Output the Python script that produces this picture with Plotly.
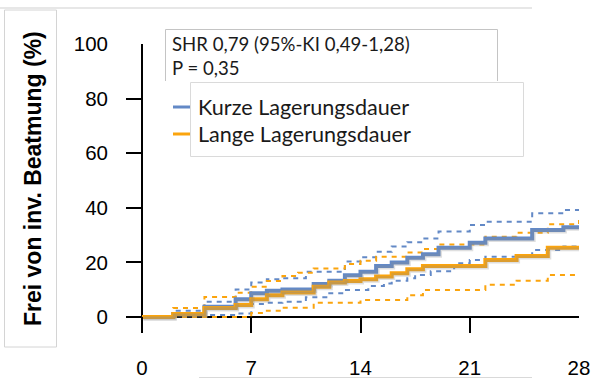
import plotly.graph_objects as go

# ---- data (days, cumulative %)
kurz_t = [0, 2, 4, 6, 7, 8, 9, 11, 12, 13, 14, 15, 16, 17, 18, 19, 21, 22, 25, 27, 28]
kurz_v = [0, 1.1, 3.8, 6.5, 8.7, 9.6, 10.1, 12.1, 13.3, 15.3, 16.6, 18.7, 20.0, 21.7, 23.0, 25.4, 27.2, 28.8, 31.9, 32.9, 32.9]
kurz_up_t = [0, 2, 4, 6, 7, 8, 9, 10.5, 13, 14, 15, 16, 17, 18, 19, 21, 22, 25, 27, 28]
kurz_up_v = [0, 2.3, 5.6, 10.1, 12.6, 13.8, 14.2, 16.6, 20.3, 21.9, 23.9, 25.8, 27.4, 28.8, 31.3, 33.7, 34.9, 38.0, 39.2, 39.2]
kurz_lo_t = [0, 4, 6, 7, 8, 9, 10.5, 12, 13, 14.5, 15.5, 16, 17, 17.5, 18.5, 20, 21, 22, 25, 27, 28]
kurz_lo_v = [0, 0.7, 1.3, 4.8, 5.2, 5.6, 7.2, 8.7, 9.9, 11.4, 12.3, 13.3, 14.2, 15.4, 16.8, 19.7, 20.9, 22.1, 24.5, 25.8, 25.8]

lang_t = [0, 2, 4, 6, 7, 8, 9, 11, 12, 13, 14, 15, 16, 17, 18, 22, 24, 26, 28]
lang_v = [0, 1.1, 3.3, 4.4, 6.5, 8.0, 9.0, 11.1, 12.6, 13.2, 13.8, 14.8, 16.0, 17.5, 18.7, 20.9, 22.3, 25.4, 26.0]
lang_up_t = [0, 2, 4, 6, 7, 8, 9, 10, 11, 13, 14, 15, 17, 18, 19, 22, 24, 26, 28]
lang_up_v = [0, 3.3, 7.3, 8.9, 11.1, 13.2, 15.0, 16.2, 17.8, 19.4, 20.6, 22.1, 23.6, 24.9, 26.6, 29.4, 30.9, 34.0, 35.5]
lang_lo_t = [0, 7, 8, 9, 11, 14, 17, 18, 22, 24, 26, 28]
lang_lo_v = [0, 1.5, 2.3, 3.4, 5.2, 6.2, 8.0, 9.9, 11.8, 13.3, 15.4, 15.4]

x_ticks = [0, 7, 14, 21, 28]
y_ticks = [0, 20, 40, 60, 80, 100]
series_names = ["Kurze Lagerungsdauer", "Lange Lagerungsdauer"]
stats_lines = ["SHR 0,79 (95%-KI 0,49-1,28)", "P = 0,35"]
y_title = "Frei von inv. Beatmung (%)"

BLUE = "#6389C6"
ORANGE = "#FBA40D"
W, H = 592, 379
L, R, T, B = 126, 579, 44, 333
XPX = (R - L) / (28 + 16 / 15.607)   # px per day
YPX = (B - T) / (100 + 16 / 2.73)    # px per %
XR = [-16 / 15.607, 28]
YR = [-16 / 2.73, 100]
SH = 1.5  # shadow offset in px


def px(x):
    return (x - L) / (R - L)


def py(y):
    return (B - y) / (B - T)


fig = go.Figure()
# soft shadow of the solid curves (drawn on an offset overlay axis pair)
for t, v in [(kurz_t, kurz_v), (lang_t, lang_v)]:
    fig.add_trace(go.Scatter(x=t, y=v, mode="lines", xaxis="x2", yaxis="y2",
                             line=dict(color="rgba(140,140,140,0.28)", width=4, shape="hv"),
                             showlegend=False, hoverinfo="skip"))
for t, v, c in [(kurz_up_t, kurz_up_v, BLUE), (kurz_lo_t, kurz_lo_v, BLUE),
                (lang_up_t, lang_up_v, ORANGE), (lang_lo_t, lang_lo_v, ORANGE)]:
    fig.add_trace(go.Scatter(x=t, y=v, mode="lines", line=dict(color=c, width=2, dash="5px,5px", shape="hv"),
                             showlegend=False, hoverinfo="skip"))
fig.add_trace(go.Scatter(x=kurz_t, y=kurz_v, mode="lines", name=series_names[0],
                         line=dict(color=BLUE, width=4, shape="hv"), showlegend=False))
fig.add_trace(go.Scatter(x=lang_t, y=lang_v, mode="lines", name=series_names[1],
                         line=dict(color=ORANGE, width=4, shape="hv"), showlegend=False))

tickfont = dict(family="Liberation Sans, Arial", size=20.5, color="#000")
fig.update_layout(
    width=W, height=H,
    margin=dict(l=L, r=W - R, t=T, b=H - B, pad=0, autoexpand=False),
    plot_bgcolor="white", paper_bgcolor="white",
    xaxis=dict(range=XR, tickvals=x_ticks, ticks="inside", ticklen=16, tickwidth=2,
               tickcolor="black", showgrid=False, showline=False, zeroline=True, zerolinecolor="black",
               zerolinewidth=2, tickfont=tickfont, ticklabelstandoff=20, automargin=False),
    yaxis=dict(range=YR, tickvals=y_ticks, ticks="inside", ticklen=16, tickwidth=2,
               tickcolor="black", showgrid=False, showline=False, zeroline=True, zerolinecolor="black",
               zerolinewidth=2, tickfont=tickfont, ticklabelstandoff=17, automargin=False),
    xaxis2=dict(range=[XR[0] - SH / XPX, XR[1] - SH / XPX], overlaying="x", visible=False, anchor="y2"),
    yaxis2=dict(range=[YR[0] + SH / YPX, YR[1] + SH / YPX], overlaying="y", visible=False, anchor="x2"),
)

shapes = []
# frame artifacts around
shapes.append(dict(type="line", xref="paper", yref="paper", x0=px(0), x1=px(532), y0=py(8), y1=py(8),
                   line=dict(color="#cfcfcf", width=1)))
shapes.append(dict(type="rect", xref="paper", yref="paper", x0=px(4.5), x1=px(56.5), y0=py(10), y1=py(347),
                   line=dict(color="#d4d4d4", width=1)))
shapes.append(dict(type="line", xref="paper", yref="paper", x0=px(199), x1=px(532), y0=py(377.5), y1=py(377.5),
                   line=dict(color="#d9d9d9", width=1)))
# stats box (no bottom edge)
shapes.append(dict(type="path", xref="paper", yref="paper",
                   path=f"M{px(165.5)},{py(81)} L{px(165.5)},{py(29.5)} L{px(497.5)},{py(29.5)} L{px(497.5)},{py(81)}",
                   line=dict(color="#c4c4c4", width=1), fillcolor="rgba(0,0,0,0)"))
# legend box
shapes.append(dict(type="rect", xref="paper", yref="paper", x0=px(190.5), x1=px(523.5), y0=py(82.5), y1=py(156.5),
                   line=dict(color="#dadada", width=1), fillcolor="white", layer="above"))
for yy, c in [(107, BLUE), (134, ORANGE)]:
    shapes.append(dict(type="line", xref="paper", yref="paper", x0=px(173), x1=px(190), y0=py(yy), y1=py(yy),
                       line=dict(color=c, width=3), layer="above"))
fig.update_layout(shapes=shapes)

statfont = dict(family="Lato, Noto Sans", size=18.6, color="#1a1a1a")
legfont = dict(family="Lato, Noto Sans", size=21.6, color="#1a1a1a")
ann = []
for i, s in enumerate(stats_lines):
    ann.append(dict(text=s, xref="paper", yref="paper", x=px(170), y=py([44, 68][i]), xanchor="left",
                    yanchor="middle", showarrow=False, font=statfont))
for i, s in enumerate(series_names):
    ann.append(dict(text=s, xref="paper", yref="paper", x=px(196), y=py([107, 134][i]), xanchor="left",
                    yanchor="middle", showarrow=False, font=legfont))
ann.append(dict(text=y_title, xref="paper", yref="paper", x=px(33), y=py(179), textangle=-90,
                xanchor="center", yanchor="middle", showarrow=False,
                font=dict(family="Liberation Sans, Arial", size=23, color="#000", weight="bold")))
fig.update_layout(annotations=ann)

fig.write_html("out.html")
